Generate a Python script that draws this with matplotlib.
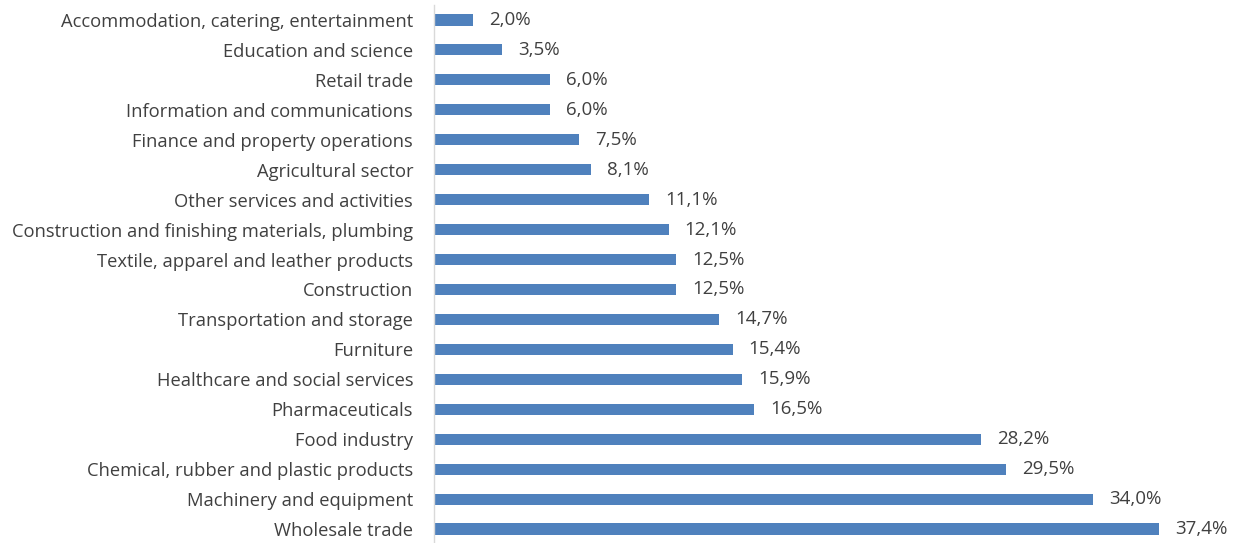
import matplotlib.pyplot as plt

sectors = [
    "Accommodation, catering, entertainment",
    "Education and science",
    "Retail trade",
    "Information and communications",
    "Finance and property operations",
    "Agricultural sector",
    "Other services and activities",
    "Construction and finishing materials, plumbing",
    "Textile, apparel and leather products",
    "Construction",
    "Transportation and storage",
    "Furniture",
    "Healthcare and social services",
    "Pharmaceuticals",
    "Food industry",
    "Chemical, rubber and plastic products",
    "Machinery and equipment",
    "Wholesale trade",
]
shares = [2.0, 3.5, 6.0, 6.0, 7.5, 8.1, 11.1, 12.1, 12.5, 12.5,
          14.7, 15.4, 15.9, 16.5, 28.2, 29.5, 34.0, 37.4]

plt.rcParams['font.family'] = ['Open Sans', 'DejaVu Sans']
text_color = '#404040'

fig = plt.figure(figsize=(12.42, 5.43), dpi=100)
ax = fig.add_axes([434 / 1242, -1 / 543, (1209.6 - 434) / 1242, 539 / 543])

# top row first
ypos = list(range(len(sectors)))[::-1]
ax.barh(ypos, shares, height=0.37, color='#4F81BD', edgecolor='none')

for y, v in zip(ypos, shares):
    ax.annotate(f"{v:.1f}%".replace('.', ','), xy=(v, y), xytext=(11.5, 0),
                textcoords='offset points', va='center', ha='left',
                fontsize=13.5, color=text_color)

ax.set_xlim(0, 40)
ax.set_ylim(-0.5, len(sectors) - 0.5)
ax.set_yticks(ypos)
ax.set_yticklabels(sectors, fontsize=13.2, color=text_color)
ax.tick_params(axis='y', length=0, pad=15)
ax.set_xticks([])

for s in ['top', 'right', 'bottom']:
    ax.spines[s].set_visible(False)
ax.spines['left'].set_color('#D9D9D9')
ax.spines['left'].set_linewidth(1.0)

fig.savefig('out.png', dpi=100)
